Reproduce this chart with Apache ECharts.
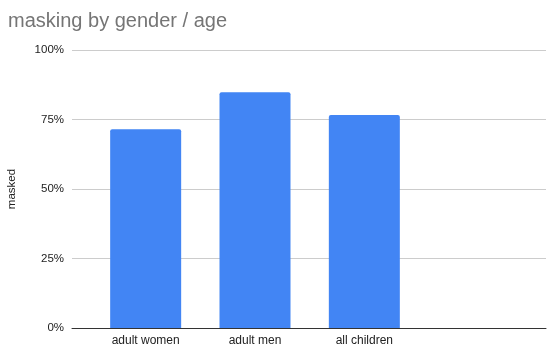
<!DOCTYPE html>
<html>
<head>
<meta charset="utf-8">
<script src="https://cdn.jsdelivr.net/npm/echarts@6/dist/echarts.min.js"></script>
<style>
  html, body { margin: 0; padding: 0; background: #fff; }
  #chart { width: 550px; height: 352px; }
</style>
</head>
<body>
<div id="chart"></div>
<script>
const categories = ['adult women', 'adult men', 'all children'];
const masked = [71.5, 84.8, 76.6];
const yTicks = [0, 25, 50, 75, 100];

var myChart = echarts.init(document.getElementById('chart'));

var option = {
    animation: false,
    textStyle: { fontFamily: 'Liberation Sans, Arial, sans-serif' },
    title: {
        text: 'masking by gender / age',
        left: 3,
        top: 6,
        textStyle: { fontSize: 20, fontWeight: 'normal', color: '#757575' }
    },
    grid: [
        // full plot area: gridlines + baseline
        { left: 72, right: 4, top: 50, bottom: 24, outerBoundsMode: 'none', containLabel: false },
        // bars sit in a narrower band on the left
        { left: 91, width: 328, top: 50, bottom: 24, outerBoundsMode: 'none', containLabel: false }
    ],
    xAxis: [{
        gridIndex: 0,
        type: 'category',
        data: [''],
        axisLine: { show: true, lineStyle: { color: '#333', width: 1 } },
        axisTick: { show: false },
        axisLabel: { show: false }
    }, {
        gridIndex: 1,
        type: 'category',
        data: categories,
        axisLine: { show: false },
        axisTick: { show: false },
        axisLabel: { color: '#222', fontSize: 12, margin: 7 }
    }],
    yAxis: [{
        gridIndex: 0,
        type: 'value',
        min: yTicks[0],
        max: yTicks[yTicks.length - 1],
        interval: 25,
        name: 'masked',
        nameLocation: 'middle',
        nameGap: 54,
        nameTextStyle: { color: '#222', fontSize: 11.5 },
        axisLine: { show: false },
        axisTick: { show: false },
        axisLabel: { color: '#222', fontSize: 11.5, margin: 8, formatter: '{value}%' },
        splitLine: { lineStyle: { color: '#cccccc', width: 1 } }
    }, {
        gridIndex: 1,
        type: 'value',
        min: 0,
        max: 100,
        show: false
    }],
    series: [{
        type: 'bar',
        xAxisIndex: 1,
        yAxisIndex: 1,
        data: masked,
        barWidth: 71,
        itemStyle: { color: '#4285f4', borderRadius: [2, 2, 0, 0] }
    }]
};
myChart.setOption(option);
</script>
</body>
</html>
